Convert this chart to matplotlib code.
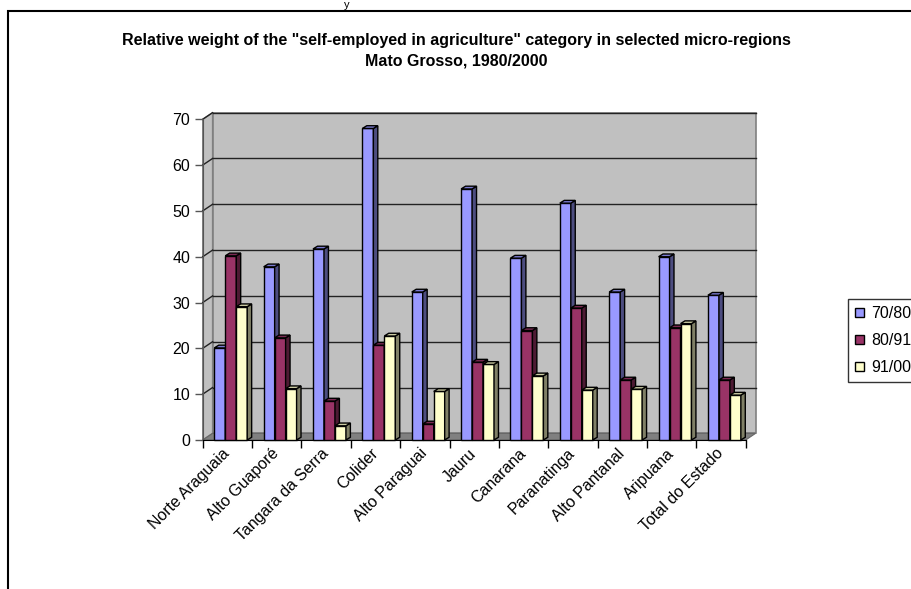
import numpy as np
import matplotlib
matplotlib.use("Agg")
import matplotlib.pyplot as plt
from matplotlib.patches import Polygon, Rectangle, Patch

plt.rcParams['font.family'] = ['Liberation Sans', 'DejaVu Sans']

# dados
regioes = ["Norte Araguaia", "Alto Guaporé", "Tangara da Serra", "Colider",
           "Alto Paraguai", "Jauru", "Canarana", "Paranatinga",
           "Alto Pantanal", "Aripuana", "Total do Estado"]
s7080 = [20.1, 37.8, 41.7, 68.0, 32.3, 54.8, 39.7, 51.7, 32.3, 40.0, 31.6]
s8091 = [40.2, 22.3, 8.5, 20.7, 3.5, 17.0, 23.9, 28.8, 13.1, 24.5, 13.1]
s9100 = [29.1, 11.2, 3.1, 22.7, 10.6, 16.5, 14.0, 10.9, 11.1, 25.4, 9.8]
series = ["70/80", "80/91", "91/00"]

cores = ["#9999FF", "#993366", "#FFFFCC"]
lados = ["#4D4D80", "#4D1A33", "#808066"]
topos = ["#7A7AD0", "#7A2952", "#CCCCA3"]

W, H = 912, 589
fig = plt.figure(figsize=(W / 100, H / 100), dpi=100)
ax = fig.add_axes([202.7 / W, (H - 440) / H, 543 / W, 320.7 / H])
ax.set_xlim(0, 11)
ax.set_ylim(0, 70)

n = len(regioes)
ymax = 70
dx, dy = 0.2, 1.45      # profundidade das paredes (unidades de dados)
bdx, bdy = 0.09, 0.6    # profundidade das barras
w = 1 / 4.5

# paredes e chao
ax.add_patch(Polygon([(0, 0), (dx, dy), (dx, ymax + dy), (0, ymax)],
                     closed=True, fc="#C0C0C0", ec="#808080", lw=1, clip_on=False, zorder=0))
ax.add_patch(Polygon([(dx, dy), (n + dx, dy), (n + dx, ymax + dy), (dx, ymax + dy)],
                     closed=True, fc="#C0C0C0", ec="#808080", lw=1.2, clip_on=False, zorder=0))
ax.add_patch(Polygon([(0, 0), (n, 0), (n + dx, dy), (dx, dy)],
                     closed=True, fc="#808080", ec="#666666", lw=0.8, clip_on=False, zorder=0.5))
for v in range(10, 80, 10):
    ax.plot([dx, n + dx], [v + dy, v + dy], color="#222222", lw=1, zorder=0.6, clip_on=False)
    ax.plot([0, dx], [v, v + dy], color="#222222", lw=1, zorder=0.6, clip_on=False)

# barras 3D
dados = [s7080, s8091, s9100]
for i in range(n):
    for j in range(3):
        v = dados[j][i]
        x0 = i + 0.235 + j * w
        z = 2 + i * 3 + j
        ax.bar(x0, v, width=w, align="edge", color=cores[j], edgecolor="black",
               lw=1, zorder=z, clip_on=False)
        ax.add_patch(Polygon([(x0 + w, 0), (x0 + w + bdx, bdy), (x0 + w + bdx, v + bdy), (x0 + w, v)],
                             closed=True, fc=lados[j], ec="black", lw=1, zorder=z, clip_on=False))
        ax.add_patch(Polygon([(x0, v), (x0 + bdx, v + bdy), (x0 + w + bdx, v + bdy), (x0 + w, v)],
                             closed=True, fc=topos[j], ec="black", lw=1, zorder=z, clip_on=False))

# eixos
for s in ["top", "right"]:
    ax.spines[s].set_visible(False)
ax.spines["left"].set_color("#555555")
ax.spines["bottom"].set_color("black")
ax.spines["left"].set_zorder(1)
ax.set_yticks(range(0, 80, 10))
ax.tick_params(axis="y", length=6, width=1, color="#555555", labelsize=11.5, pad=3)
ax.set_xticks(range(0, n + 1))
ax.set_xticklabels([])
ax.tick_params(axis="x", which="major", length=6, width=1, color="black")
ax.set_xticks(np.arange(n) + 0.5, minor=True)
ax.set_xticklabels(regioes, minor=True, rotation=45, ha="right", va="center",
                   rotation_mode="anchor", fontsize=11.5)
ax.tick_params(axis="x", which="minor", length=0, pad=8)

fig.text(0.5, 1 - 40 / H, 'Relative weight of the "self-employed in agriculture" category in selected micro-regions',
         ha="center", va="center", fontsize=11.5, fontweight="bold")
fig.text(0.5, 1 - 61 / H, "Mato Grosso, 1980/2000", ha="center", va="center",
         fontsize=11.5, fontweight="bold")
fig.text(347 / W, 1.0, "y", ha="center", va="top", fontsize=8)

# moldura externa
fig.add_artist(Rectangle((8 / W, -0.1), 1.2, 1 - 11 / H + 0.1, transform=fig.transFigure,
                         fill=False, ec="black", lw=1.5))

handles = [Patch(facecolor=c, edgecolor="black") for c in cores]
fig.legend(handles, series, loc="upper left", bbox_to_anchor=(848 / W, 1 - 299 / H),
           frameon=True, fancybox=False, edgecolor="black", fontsize=11.5,
           handlelength=0.55, handleheight=0.55, handletextpad=0.45,
           borderpad=0.45, labelspacing=0.75, borderaxespad=0)

fig.savefig("out.png", dpi=100)
